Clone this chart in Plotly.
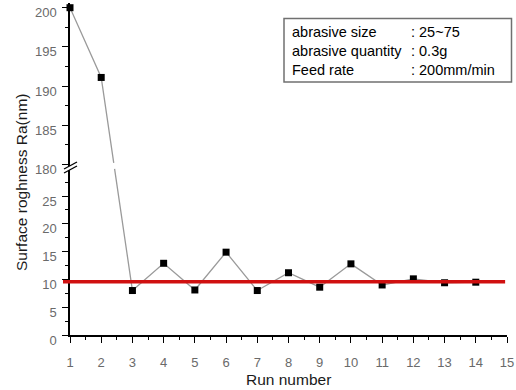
import plotly.graph_objects as go

# ---------------- data ----------------
run_number = [1, 2, 3, 4, 5, 6, 7, 8, 9, 10, 11, 12, 13, 14]
roughness = [200, 191.1, 8.0, 12.9, 8.1, 14.9, 8.0, 11.2, 8.6, 12.8, 9.0, 10.1, 9.4, 9.5]
reference_level = 9.6
lower_ticks = [0, 5, 10, 15, 20, 25]
upper_ticks = [180, 185, 190, 195, 200]
x_ticks = list(range(1, 16))
info_labels = ["abrasive size", "abrasive quantity", "Feed rate"]
info_values = [": 25~75", ": 0.3g", ": 200mm/min"]

# ---------------- layout geometry ----------------
W, H = 516, 390
ML, MR, MT, MB = 70, 9, 3, 55
PW, PH = W - ML - MR, H - MT - MB
split = 0.509
lower_range = [0, 30.4]
upper_range = [179.8, 200.6]
x_range = [1, 15]

def py_lower(v):
    return MT + PH - (v - lower_range[0]) / (lower_range[1] - lower_range[0]) * split * PH

def py_upper(v):
    return MT + PH * (1 - split) - (v - upper_range[0]) / (upper_range[1] - upper_range[0]) * (1 - split) * PH

def px(x):
    return ML + (x - x_range[0]) / (x_range[1] - x_range[0]) * PW

def paper_x(p):
    return (p - ML) / PW

def paper_y(p):
    return (MT + PH - p) / PH

# split series into upper/lower parts (straight in pixel space across break)
up_x = [x for x, v in zip(run_number, roughness) if v >= 150]
up_y = [v for v in roughness if v >= 150]
lo_x = [x for x, v in zip(run_number, roughness) if v < 150]
lo_y = [v for v in roughness if v < 150]

xa, ya = up_x[-1], py_upper(up_y[-1])
xb, yb = lo_x[0], py_lower(lo_y[0])
def x_at(pyv):
    return xa + (pyv - ya) / (yb - ya) * (xb - xa)

gap_top_val = 180.2
gap_bot_val = 29.9
up_line_x = up_x + [x_at(py_upper(gap_top_val))]
up_line_y = up_y + [gap_top_val]
lo_line_x = [x_at(py_lower(gap_bot_val))] + lo_x
lo_line_y = [gap_bot_val] + lo_y

line_color = "#9a9a9a"
tick_font = dict(family="Liberation Sans Narrow, Arial Narrow, Liberation Sans, Arial", size=13, color="#6a6a6a")

fig = go.Figure()
fig.add_trace(go.Scatter(x=up_line_x, y=up_line_y, yaxis="y2", mode="lines",
                         line=dict(color=line_color, width=1.3), showlegend=False, hoverinfo="skip"))
fig.add_trace(go.Scatter(x=lo_line_x, y=lo_line_y, yaxis="y", mode="lines",
                         line=dict(color=line_color, width=1.3), showlegend=False, hoverinfo="skip"))

# reference line
fig.add_shape(type="line", xref="paper", yref="y",
              x0=paper_x(px(1) - 7), x1=paper_x(px(14.94)), y0=reference_level, y1=reference_level,
              line=dict(color="#d01010", width=3.5), layer="above")

fig.add_trace(go.Scatter(x=up_x, y=up_y, yaxis="y2", mode="markers", cliponaxis=False,
                         marker=dict(symbol="square", size=7, color="black"), showlegend=False))
fig.add_trace(go.Scatter(x=lo_x, y=lo_y, yaxis="y", mode="markers", cliponaxis=False,
                         marker=dict(symbol="square", size=7, color="black"), showlegend=False))

axis_common = dict(showline=True, linecolor="black", linewidth=1.5, ticks="outside",
                   ticklen=6, tickwidth=1.3, tickcolor="black", showgrid=False, zeroline=False,
                   tickfont=tick_font, automargin=False, ticklabeloverflow="allow")

fig.update_layout(
    width=W, height=H, margin=dict(l=ML, r=MR, t=MT, b=MB, autoexpand=False),
    paper_bgcolor="white", plot_bgcolor="white",
    xaxis=dict(range=x_range, tickvals=x_ticks, anchor="y",
               minor=dict(dtick=0.5, tick0=1, ticklen=3, tickwidth=1.2, tickcolor="black", ticks="outside"),
               ticklabelstandoff=9, **axis_common),
    yaxis=dict(domain=[0, split], range=lower_range, tickvals=lower_ticks, anchor="x",
               minor=dict(dtick=2.5, tick0=0, ticklen=3, tickwidth=1.2, tickcolor="black", ticks="outside"),
               ticklabelshift=5, ticklabelstandoff=3, **axis_common),
    yaxis2=dict(domain=[split, 1], range=upper_range, tickvals=upper_ticks, anchor="x",
                minor=dict(dtick=2.5, tick0=180, ticklen=3, tickwidth=1.2, tickcolor="black", ticks="outside"),
                ticklabelshift=5, ticklabelstandoff=3, **axis_common),
)

# axis break marks
bx0, bx1 = paper_x(64), paper_x(77)
fig.add_shape(type="path", xref="paper", yref="paper",
              path=f"M {bx0},{paper_y(169)} L {bx1},{paper_y(162)} L {bx1},{paper_y(166)} L {bx0},{paper_y(173)} Z",
              fillcolor="white", line=dict(width=0))
for off in (0, 4):
    fig.add_shape(type="line", xref="paper", yref="paper",
                  x0=bx0, y0=paper_y(169 + off), x1=bx1, y1=paper_y(162 + off),
                  line=dict(color="black", width=1.3))

# info box
fig.add_shape(type="rect", xref="paper", yref="paper",
              x0=paper_x(284), x1=paper_x(511.5), y0=paper_y(82), y1=paper_y(18.5),
              line=dict(color="#707070", width=1.5), fillcolor="white")
info_font = dict(family="Liberation Sans, Arial", size=14.5, color="black")
for i, (lab, val) in enumerate(zip(info_labels, info_values)):
    yy = paper_y(32 + 19 * i)
    fig.add_annotation(x=paper_x(290), y=yy, xref="paper", yref="paper", text=lab,
                       showarrow=False, xanchor="left", yanchor="middle", font=info_font)
    fig.add_annotation(x=paper_x(409), y=yy, xref="paper", yref="paper", text=val,
                       showarrow=False, xanchor="left", yanchor="middle", font=info_font)

# axis titles
title_font = dict(family="Liberation Sans, Arial", size=15.5, color="#1a1a1a")
fig.add_annotation(x=paper_x(288.5), y=paper_y(380), xref="paper", yref="paper",
                   text="Run number", showarrow=False, xanchor="center", yanchor="middle", font=title_font)
fig.add_annotation(x=paper_x(21), y=paper_y(183), xref="paper", yref="paper",
                   text="Surface roghness Ra(nm)", textangle=-90, showarrow=False,
                   xanchor="center", yanchor="middle", font=title_font)

fig.write_html("out.html", config={"displayModeBar": False},
               post_script="document.body.style.margin='0';document.body.style.overflow='hidden';")
